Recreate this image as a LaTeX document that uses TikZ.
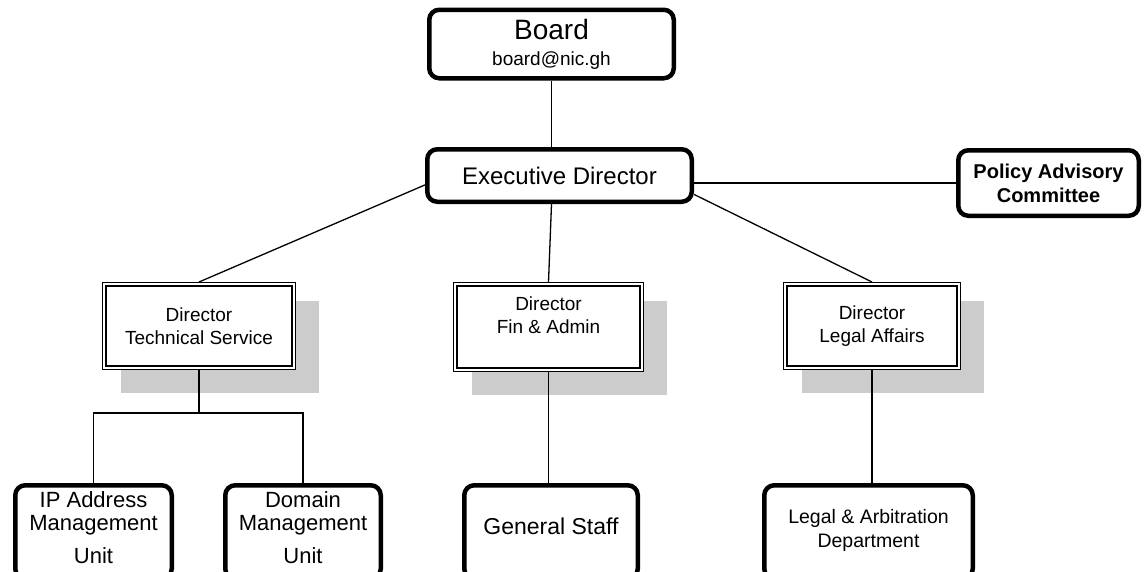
\documentclass[tikz,border=0pt]{standalone}
\usepackage{fontspec}
\setmainfont{Liberation Sans}
\usetikzlibrary{backgrounds}
\newcommand\myfs[2]{\fontsize{#1}{#2}\selectfont}
\definecolor{shadowgray}{HTML}{CCCCCC}
\tikzset{
  roundbox/.style={draw=black, line width=4.5pt, rounded corners=10pt, fill=white,
    inner sep=0pt, outer sep=2.25pt, align=center},
  unitbox/.style={roundbox, minimum height=93.5pt},
  dirbox/.style={draw=black, line width=1.4pt, double=white, double distance=2pt,
    fill=white, inner sep=0pt, outer sep=2.4pt, align=center, font=\myfs{19}{23}},
  conn/.style={draw=black, line width=1.3pt},
}
\begin{document}
\begin{tikzpicture}[x=1pt, y=-1pt]
\useasboundingbox (0,0) rectangle (1145,571);
\clip (0,0) rectangle (1145,571);

% top level
\node[roundbox, minimum width=244.5pt, minimum height=68.5pt, font=\myfs{28}{26}] (board) at (551.5,44)
  {Board\\{\myfs{19}{22}board@nic.gh}};
\node[roundbox, minimum width=264.5pt, minimum height=52.5pt, font=\myfs{24}{28}] (exec) at (559.5,175.5)
  {Executive Director};
\node[roundbox, minimum width=180.5pt, minimum height=65.5pt, font=\bfseries\myfs{20}{24}] (policy) at (1048.5,183)
  {Policy Advisory\\Committee};

% directors
\node[dirbox, minimum width=189.2pt, minimum height=83.2pt] (tech) at (199,326)
  {Director\\Technical Service};
\node[dirbox, minimum width=186.2pt, minimum height=85.2pt] (fin) at (548.5,327)
  {Director\\Fin \& Admin\\\mbox{}};
\node[dirbox, minimum width=173.2pt, minimum height=83.2pt] (legal) at (872,326)
  {Director\\Legal Affairs};

% shadows
\begin{scope}[on background layer]
  \foreach \n in {tech,fin,legal}{
    \fill[shadowgray] ([shift={(18.6,18.6)}]\n.north west) rectangle ([shift={(23.4,23.4)}]\n.south east);
  }
\end{scope}

% bottom units
\node[unitbox, minimum width=156.5pt, font=\myfs{22}{24}, text depth=9.8pt] (ip) at (93.5,532)
  {IP Address\\[-1pt]Management\\[9pt]Unit};
\node[unitbox, minimum width=155.5pt, font=\myfs{22}{24}, text depth=9.8pt] (dom) at (303,532)
  {Domain\\[-1pt]Management\\[9pt]Unit};
\node[unitbox, minimum width=173.5pt, font=\myfs{23}{27}, text depth=10.8pt] (gen) at (551,532)
  {General Staff};
\node[unitbox, minimum width=208.5pt, font=\myfs{19.5}{24}, text depth=8pt] (arb) at (868.5,532)
  {Legal \& Arbitration\\Department};

% connectors
\begin{scope}[on background layer]
  \draw[conn] (board.south) -- (board.south |- exec.north);
  \draw[conn] (policy.west) -- (policy.west -| exec.east);
  \draw[conn] (tech.north) -- (exec.184.9);
  \draw[conn] (fin.north) -- (board.south |- exec.south);
  \draw[conn] (legal.north) -- (exec.352.5);
  \path (tech.south) ++(0,43) coordinate (tj);
  \draw[conn] (tech.south) -- (tj);
  \draw[conn] (ip.north) |- (tj) -| (dom.north);
  \draw[conn] (fin.south) -- (gen.north -| fin.south);
  \draw[conn] (legal.south) -- (arb.north -| legal.south);
\end{scope}
\end{tikzpicture}
\end{document}
